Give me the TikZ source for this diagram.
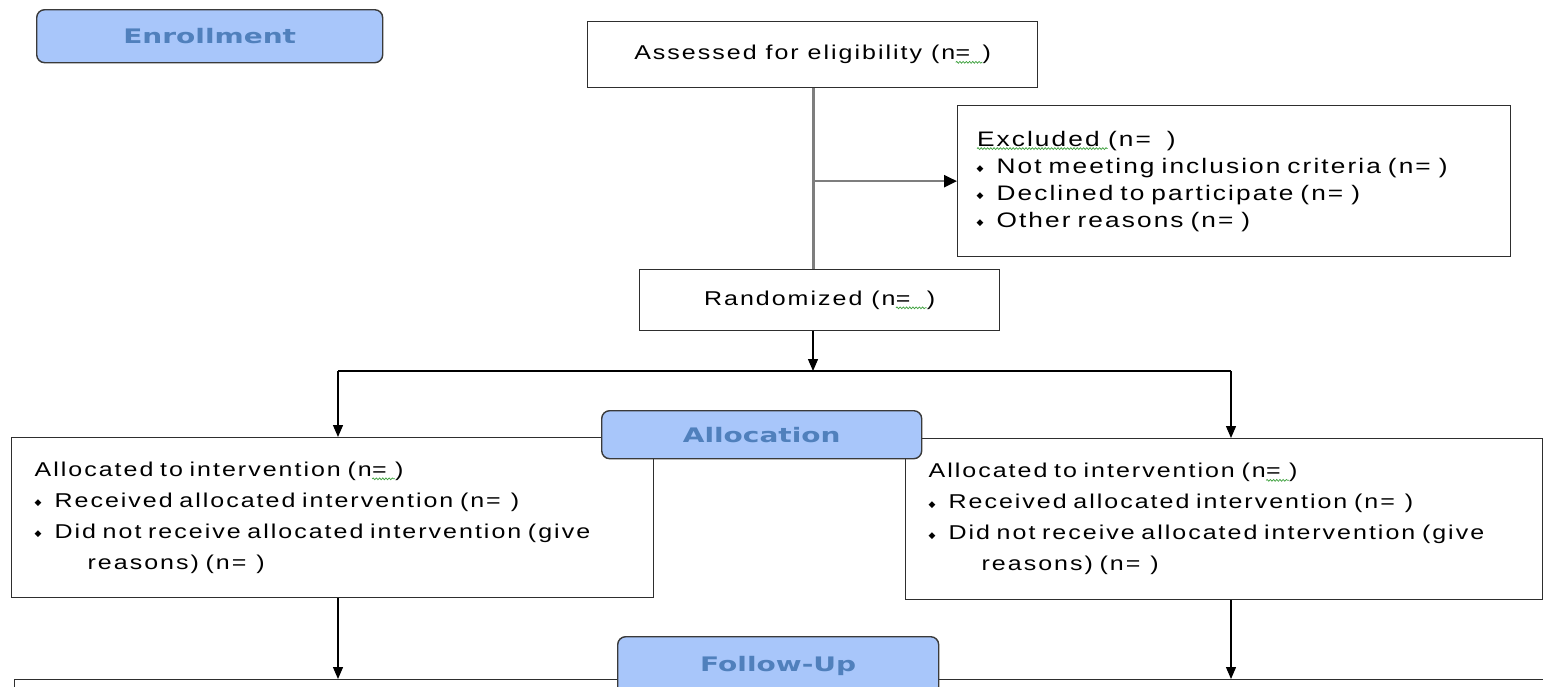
\documentclass[tikz,border=0pt]{standalone}
\usepackage{fontspec}
\setmainfont{Liberation Sans}
\newfontfamily\boxfont[FakeStretch=1.25,LetterSpace=10]{Liberation Sans}
\newfontfamily\labfont[FakeStretch=1.4]{DejaVu Sans Bold}
\newfontfamily\bulfont{DejaVu Sans}
\usetikzlibrary{arrows.meta,decorations.pathmorphing}
\definecolor{labfill}{HTML}{A8C6FA}
\definecolor{labtext}{HTML}{5080BC}
\definecolor{labedge}{HTML}{3A3A3A}
\definecolor{boxline}{HTML}{2E2E2E}
\definecolor{greyline}{HTML}{7E7E7E}
\definecolor{squigc}{HTML}{3CA03C}
\newcommand{\blt}{{\bulfont\fontsize{9}{9}\selectfont\raisebox{1.5pt}{◆}}\hspace{13pt}}
\newcommand{\squig}[1]{\tikz[baseline=(sq.base)]{\node[draw=none, fill=none, inner sep=0pt, outer sep=0pt, minimum width=0pt, minimum height=0pt, text width={}, anchor=base] (sq) at (0,0) {#1};
  \draw[draw=squigc, line width=0.7pt, decorate, decoration={snake, amplitude=0.9pt, segment length=3.2pt}]
    ([yshift=-2.5pt]sq.base west) -- ([yshift=-2.5pt]sq.base east);}}
\tikzset{
  box/.style={draw=boxline, line width=1.3pt, fill=white, inner sep=0pt, anchor=north west, font=\boxfont\fontsize{20}{27}\selectfont},
  lab/.style={draw=labedge, fill=labfill, rounded corners=8pt, line width=1.4pt, text=labtext, font=\labfont\fontsize{20}{24}\selectfont, anchor=north west, inner sep=0pt},
  arr/.style={-{Triangle[length=12pt,width=10pt]}, line width=1.3pt, draw=black},
  greyln/.style={draw=greyline, line width=3pt},
  greyarr/.style={draw=greyline, line width=2.4pt, -{Triangle[length=13pt,width=12pt,color=black]}}
}
\begin{document}
\begin{tikzpicture}[x=1pt,y=-1pt]
\clip (0,0) rectangle (1543,686);
\fill[white] (0,0) rectangle (1543,686);
% boxes
\node[box, minimum width=450pt, minimum height=66pt] (assess) at (587,21) {Assessed for eligibility (n\squig{=\kern12pt})};
\node[box, minimum width=553pt, minimum height=151pt, text width=515pt, align=left, font=\boxfont\fontsize{21}{27}\selectfont] (excl) at (957,105)
  {\squig{Excluded\kern8pt}(n=\hspace{16pt})\\
   \blt Not meeting inclusion criteria (n=\hspace{8pt})\\
   \blt Declined to participate (n=\hspace{8pt})\\
   \blt Other reasons (n=\hspace{8pt})};
\node[box, minimum width=360pt, minimum height=61pt] (rand) at (639,269) {Randomized (n\squig{=\kern16pt})};
\node[box, minimum width=642pt, minimum height=160pt, text width=596pt, align=left, font=\boxfont\fontsize{20}{31}\selectfont] (left) at (11,437)
  {Allocated to intervention (n\squig{=\kern8pt})\\
   \blt Received allocated intervention (n=\hspace{10pt})\\
   \blt Did not receive allocated intervention (give\\
   \hspace*{53pt}reasons) (n=\hspace{10pt})};
\node[box, minimum width=637pt, minimum height=161pt, text width=591pt, align=left, font=\boxfont\fontsize{20}{31}\selectfont] (right) at (905,438)
  {Allocated to intervention (n\squig{=\kern8pt})\\
   \blt Received allocated intervention (n=\hspace{10pt})\\
   \blt Did not receive allocated intervention (give\\
   \hspace*{53pt}reasons) (n=\hspace{10pt})};
\node[box, minimum width=639pt, minimum height=60pt] (fl) at (14,679) {};
\node[box, minimum width=650pt, minimum height=60pt] (fr) at (905,679) {};
% connectors
\coordinate (sl) at (338,371);
\coordinate (sr) at (1231,371);
\coordinate (stem) at (813,21);
\draw[greyln] (stem |- assess.south) -- (stem |- rand.north);
\draw[greyarr] (stem |- excl.west) -- (excl.west);
\draw[arr] (stem |- rand.south) -- (stem |- sl);
\draw[line width=1.3pt] (sl) -- (sr);
\draw[arr] (sl) -- (sl |- left.north);
\draw[arr] (sr) -- (sr |- right.north);
\draw[arr] (sl |- left.south) -- (sl |- fl.north);
\draw[arr] (sr |- right.south) -- (sr |- fr.north);
% phase labels
\node[lab, minimum width=346pt, minimum height=53pt] (enrol) at (36,9) {Enrollment};
\node[lab, minimum width=320pt, minimum height=48pt] (alloc) at (601,410) {Allocation};
\node[lab, minimum width=321pt, minimum height=58pt] (follow) at (617,636) {Follow-Up};
\end{tikzpicture}
\end{document}
